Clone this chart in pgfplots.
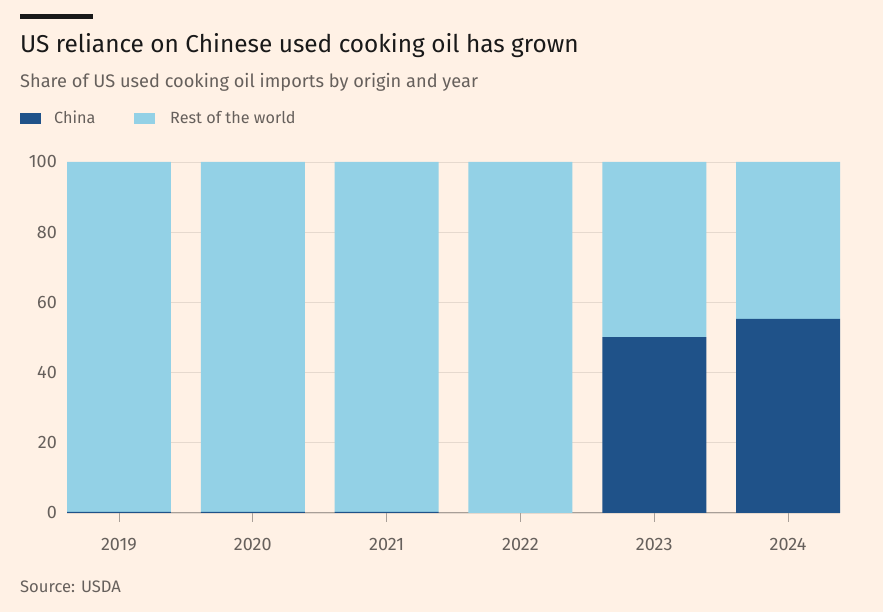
\documentclass[border=0pt]{standalone}
\usepackage{pgfplots}
\pgfplotsset{compat=1.18}
\usepackage{fontspec}
\setmainfont{Fira Sans}
\definecolor{bg}{HTML}{FFF1E5}
\definecolor{china}{HTML}{1F5289}
\definecolor{rest}{HTML}{93D1E6}
\definecolor{txt}{HTML}{66605C}
\definecolor{gridc}{HTML}{E6D9CE}
\definecolor{axc}{HTML}{A89F98}
\begin{document}
\begin{tikzpicture}[x=1pt,y=1pt]
\fill[bg] (0pt,0pt) rectangle (883pt,612pt);
\fill[black!90] (20pt,598pt) rectangle (93pt,593pt);
\node[anchor=base west,inner sep=0,font=\fontsize{24.4}{28}\selectfont,text=black!90] at (20pt,559pt) {US reliance on Chinese used cooking oil has grown};
\node[anchor=base west,inner sep=0,font=\fontsize{18.2}{21}\selectfont,text=txt] at (20pt,524pt) {Share of US used cooking oil imports by origin and year};
\fill[china] (20pt,499pt) rectangle (41pt,488pt);
\node[anchor=base west,inner sep=0,font=\fontsize{16.2}{19}\selectfont,text=txt] at (54pt,488pt) {China};
\fill[rest] (134pt,499pt) rectangle (155pt,488pt);
\node[anchor=base west,inner sep=0,font=\fontsize{16.2}{19}\selectfont,text=txt] at (170pt,488pt) {Rest of the world};
\node[anchor=base west,inner sep=0,font=\fontsize{16.6}{19}\selectfont,text=txt] at (20pt,19pt) {Source: USDA};
\begin{axis}[
  at={(67pt,99pt)}, anchor=south west,
  scale only axis, width=773pt, height=351pt,
  xmin=-0.388, xmax=5.388, ymin=0, ymax=100,
  ybar stacked, bar width=104pt,
  xtick={0,1,2,3,4,5},
  xticklabels={2019,2020,2021,2022,2023,2024},
  ytick={0,20,40,60,80,100},
  ymajorgrids, grid style={gridc, line width=0.8pt},
  axis x line*=bottom, axis y line*=left,
  y axis line style={draw=none},
  x axis line style={axc, line width=1pt},
  tick align=outside, major tick length=9pt,
  xtick style={axc, line width=0.6pt},
  ytick style={draw=none},
  ticklabel style={font=\fontsize{18}{21}\selectfont, text=txt},
  /pgf/number format/assume math mode=true,
  yticklabel style={anchor=east, inner sep=0pt, xshift=-1pt},
  xticklabel style={anchor=base, inner sep=0pt, yshift=-29pt},
]
\addplot[fill=china, draw=none] coordinates {(0,0.3) (1,0.3) (2,0.3) (3,0) (4,50.1) (5,55.3)};
\addplot[fill=rest, draw=none] coordinates {(0,99.7) (1,99.7) (2,99.7) (3,100) (4,49.9) (5,44.7)};
\end{axis}
\end{tikzpicture}
\end{document}
